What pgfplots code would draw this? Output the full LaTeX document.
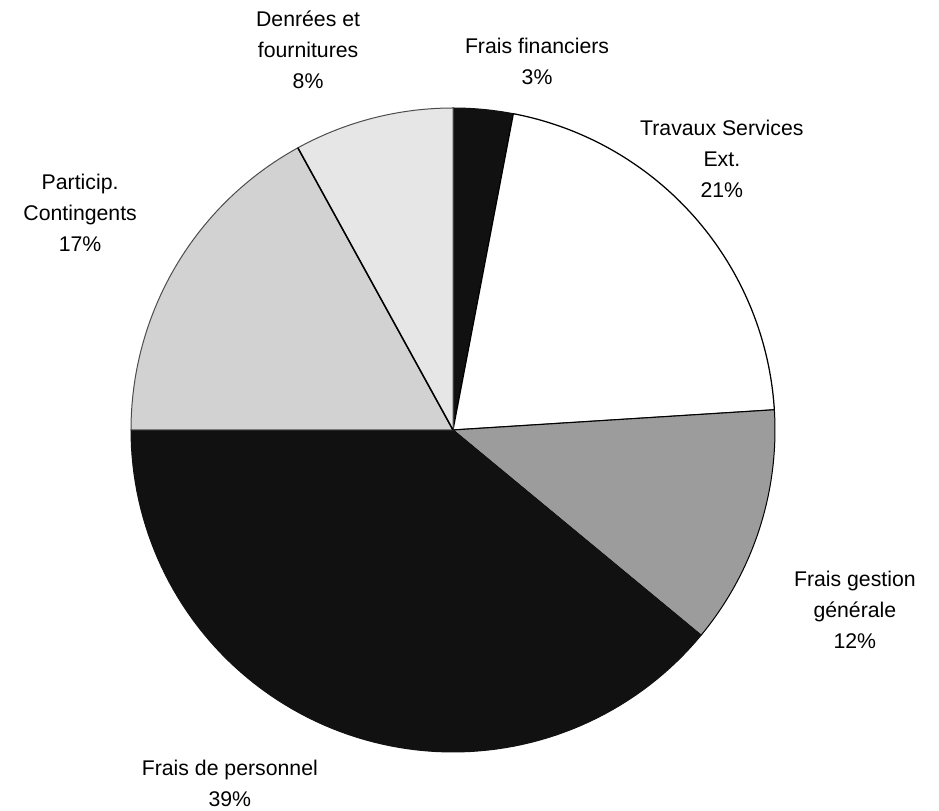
\documentclass[border=0pt]{standalone}
\usepackage{pgfplots}
\pgfplotsset{compat=1.18}
\usepackage{fontspec}
\setmainfont{Liberation Sans}
\definecolor{blk}{HTML}{111111}
\definecolor{gest}{HTML}{9C9C9C}
\definecolor{part}{HTML}{D2D2D2}
\definecolor{denr}{HTML}{E6E6E6}
% percentages, clockwise from the top
\def\vA{3}  % Frais financiers
\def\vB{21} % Travaux Services Ext.
\def\vC{12} % Frais gestion generale
\def\vD{39} % Frais de personnel
\def\vE{17} % Particip. Contingents
\def\vF{8}  % Denrees et fournitures
\pgfmathsetmacro\aA{90}
\pgfmathsetmacro\aB{\aA-3.6*\vA}
\pgfmathsetmacro\aC{\aB-3.6*\vB}
\pgfmathsetmacro\aD{\aC-3.6*\vC}
\pgfmathsetmacro\aE{\aD-3.6*\vD}
\pgfmathsetmacro\aF{\aE-3.6*\vE}
\pgfmathsetmacro\aG{\aF-3.6*\vF}
\begin{document}
\begin{tikzpicture}
\begin{axis}[
  x=128.8pt, y=128.8pt,
  xmin=-1.4068, xmax=1.5093, ymin=-1.1832, ymax=1.3354,
  hide axis, clip=false,
  samples=90, line join=round,
]
\path (axis cs:-1.4068,-1.1832) rectangle (axis cs:1.5093,1.3354);
\addplot[draw=blk, line width=0.4pt, fill=blk, domain=\aB:\aA] ({cos(x)},{sin(x)}) -- (axis cs:0,0) -- cycle;
\addplot[draw=black, line width=0.5pt, fill=white, domain=\aC:\aB] ({cos(x)},{sin(x)}) -- (axis cs:0,0) -- cycle;
\addplot[draw=black, line width=0.4pt, fill=gest, domain=\aD:\aC] ({cos(x)},{sin(x)}) -- (axis cs:0,0) -- cycle;
\addplot[draw=blk, line width=0.4pt, fill=blk, domain=\aE:\aD] ({cos(x)},{sin(x)}) -- (axis cs:0,0) -- cycle;
\addplot[draw=black!70, line width=0.4pt, fill=part, domain=\aF:\aE] ({cos(x)},{sin(x)}) -- (axis cs:0,0) -- cycle;
\addplot[draw=black!70, line width=0.4pt, fill=denr, domain=\aG:\aF] ({cos(x)},{sin(x)}) -- (axis cs:0,0) -- cycle;
\draw[black, line width=0.6pt] (axis cs:0,0) -- (axis cs:{cos(\aF)},{sin(\aF)});
\tikzset{lab/.style={align=center, font=\fontsize{8.5}{12.4}\selectfont, inner sep=0pt}}
\node[lab] at (axis cs:-0.450,1.180) {Denrées et\\fournitures\\\vF\%};
\node[lab] at (axis cs:0.261,1.146) {Frais financiers\\\vA\%};
\node[lab] at (axis cs:0.835,0.842) {Travaux Services\\Ext.\\\vB\%};
\node[lab] at (axis cs:-1.158,0.674) {Particip.\\Contingents\\\vE\%};
\node[lab] at (axis cs:1.248,-0.559) {Frais gestion\\générale\\\vC\%};
\node[lab] at (axis cs:-0.693,-1.098) {Frais de personnel\\\vD\%};
\end{axis}
\end{tikzpicture}
\end{document}
